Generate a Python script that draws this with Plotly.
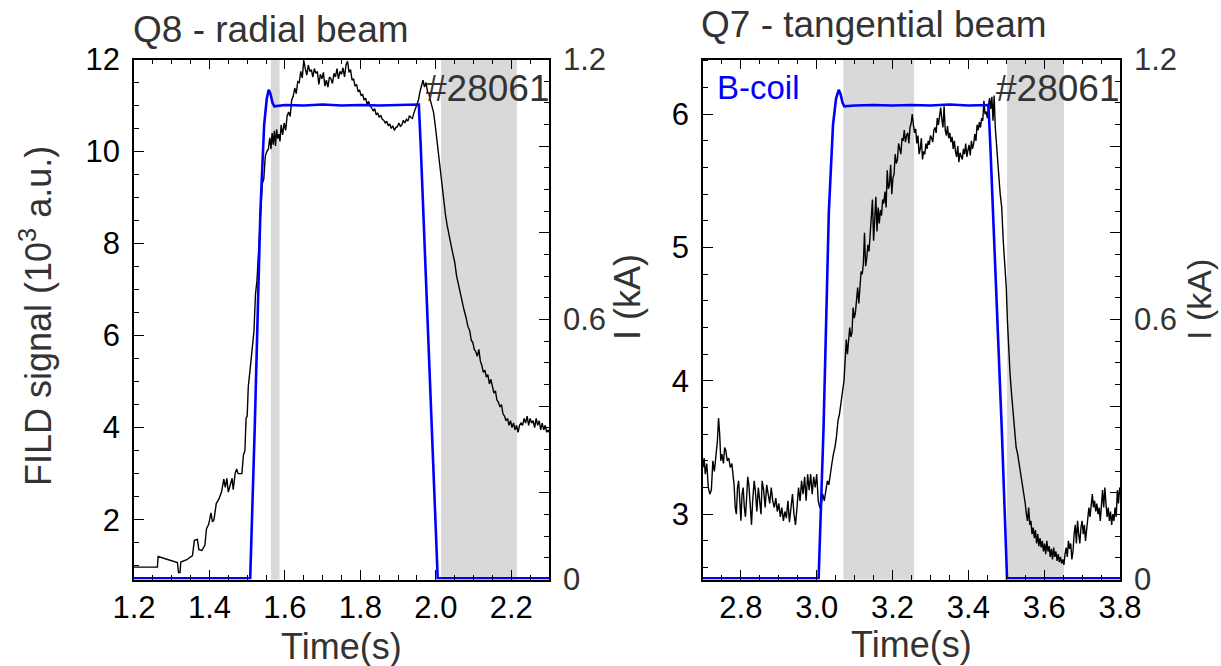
import plotly.graph_objects as go

# ---------------- data ----------------
# Left panel: Q8 - radial beam, FILD signal (10^3 a.u.) vs time (s)
q8_signal = [
    (1.200, 0.97), (1.220, 0.97), (1.240, 0.98), (1.262, 0.97), (1.264, 1.20), (1.280, 1.16), (1.300, 1.10),
    (1.315, 1.07), (1.318, 0.85), (1.322, 0.85), (1.324, 1.08), (1.340, 1.13), (1.355, 1.22), (1.360, 1.55),
    (1.368, 1.57), (1.372, 1.35), (1.380, 1.33), (1.388, 1.45), (1.392, 1.80), (1.398, 1.90), (1.404, 2.15),
    (1.408, 1.95), (1.412, 2.00), (1.418, 2.35), (1.425, 2.45), (1.432, 2.60), (1.438, 2.88), (1.442, 2.70),
    (1.446, 2.90), (1.450, 2.60), (1.455, 2.75), (1.460, 2.90), (1.463, 2.65), (1.468, 3.00), (1.472, 3.10),
    (1.476, 3.00), (1.486, 3.00), (1.490, 3.40), (1.494, 3.50), (1.497, 4.20), (1.500, 4.25), (1.503, 4.90),
    (1.507, 5.20), (1.512, 5.60), (1.518, 6.10), (1.522, 6.90), (1.526, 7.20), (1.530, 7.80), (1.535, 8.60),
    (1.540, 9.30), (1.544, 9.40), (1.548, 9.90), (1.552, 10.00), (1.556, 10.05), (1.560, 10.30), (1.563, 10.05),
    (1.566, 10.40), (1.569, 10.15), (1.572, 10.45), (1.575, 10.12), (1.578, 10.48), (1.581, 10.28), (1.584, 10.38),
    (1.587, 10.22), (1.590, 10.58), (1.594, 10.36), (1.598, 10.62), (1.602, 10.46), (1.606, 10.78), (1.610, 10.86),
    (1.614, 10.76), (1.618, 11.12), (1.622, 11.20), (1.626, 11.38), (1.630, 11.26), (1.634, 11.52), (1.638, 11.50),
    (1.642, 11.74), (1.646, 11.60), (1.650, 11.98), (1.654, 11.80), (1.658, 11.66), (1.662, 11.88), (1.666, 11.74),
    (1.670, 11.78), (1.674, 11.62), (1.678, 11.80), (1.682, 11.70), (1.686, 11.74), (1.690, 11.46), (1.694, 11.68),
    (1.698, 11.58), (1.702, 11.72), (1.706, 11.42), (1.710, 11.55), (1.714, 11.40), (1.718, 11.62), (1.722, 11.58),
    (1.726, 11.48), (1.730, 11.70), (1.734, 11.62), (1.738, 11.80), (1.742, 11.58), (1.746, 11.74), (1.750, 11.68),
    (1.754, 11.82), (1.758, 11.62), (1.762, 11.88), (1.766, 11.96), (1.770, 11.72), (1.774, 11.78), (1.778, 11.55),
    (1.782, 11.58), (1.786, 11.42), (1.790, 11.46), (1.794, 11.30), (1.798, 11.33), (1.802, 11.22), (1.806, 11.24),
    (1.810, 11.12), (1.814, 11.16), (1.818, 11.02), (1.822, 11.09), (1.826, 10.98), (1.830, 10.95), (1.834, 10.88),
    (1.838, 10.93), (1.842, 10.80), (1.846, 10.84), (1.850, 10.74), (1.854, 10.79), (1.858, 10.70), (1.862, 10.68),
    (1.866, 10.62), (1.870, 10.66), (1.874, 10.56), (1.878, 10.60), (1.882, 10.50), (1.886, 10.56), (1.890, 10.46),
    (1.894, 10.52), (1.898, 10.54), (1.902, 10.62), (1.906, 10.55), (1.910, 10.58), (1.914, 10.68), (1.918, 10.62),
    (1.922, 10.70), (1.926, 10.66), (1.930, 10.78), (1.934, 10.74), (1.938, 10.72), (1.942, 10.84), (1.946, 10.92),
    (1.950, 11.00), (1.954, 11.12), (1.958, 11.30), (1.962, 11.45), (1.966, 11.55), (1.970, 11.40), (1.974, 11.50),
    (1.978, 11.30), (1.982, 11.25), (1.986, 11.10), (1.990, 11.00), (1.994, 10.85), (1.998, 10.60), (2.002, 10.30),
    (2.006, 10.05), (2.010, 9.70), (2.014, 9.40), (2.018, 9.10), (2.022, 8.90), (2.026, 8.60), (2.030, 8.40),
    (2.034, 8.20), (2.038, 8.05), (2.042, 7.90), (2.046, 7.75), (2.050, 7.60), (2.055, 7.30), (2.060, 7.10),
    (2.065, 6.90), (2.070, 6.75), (2.075, 6.55), (2.080, 6.40), (2.085, 6.20), (2.090, 6.10), (2.094, 5.90),
    (2.098, 5.85), (2.102, 5.70), (2.106, 5.65), (2.110, 5.55), (2.114, 5.70), (2.118, 5.45), (2.122, 5.35),
    (2.126, 5.20), (2.130, 5.25), (2.134, 5.10), (2.138, 5.15), (2.142, 4.95), (2.146, 5.05), (2.150, 4.85),
    (2.154, 4.75), (2.158, 4.80), (2.162, 4.60), (2.166, 4.55), (2.170, 4.45), (2.174, 4.50), (2.178, 4.30),
    (2.182, 4.25), (2.186, 4.15), (2.190, 4.20), (2.194, 4.05), (2.198, 4.15), (2.202, 4.00), (2.206, 4.10),
    (2.210, 3.95), (2.214, 4.05), (2.218, 3.90), (2.222, 4.05), (2.226, 4.10), (2.230, 4.05), (2.234, 4.20),
    (2.238, 4.10), (2.242, 4.25), (2.246, 4.05), (2.250, 4.20), (2.254, 4.10), (2.258, 4.15), (2.262, 4.00),
    (2.266, 4.20), (2.270, 4.05), (2.274, 4.15), (2.278, 3.95), (2.282, 4.10), (2.286, 3.95), (2.290, 4.05),
    (2.294, 3.90), (2.298, 3.95), (2.300, 3.90),
]

# B-coil current (kA) for the radial-beam shot window
q8_coil = [
    (1.200, 0.003), (1.508, 0.003), (1.520, 0.35), (1.535, 0.85), (1.545, 1.05), (1.552, 1.11), (1.557, 1.13),
    (1.562, 1.12), (1.567, 1.10), (1.572, 1.092), (1.600, 1.095), (1.650, 1.094), (1.700, 1.096), (1.750, 1.094),
    (1.800, 1.095), (1.850, 1.094), (1.900, 1.095), (1.955, 1.096), (1.960, 1.00), (1.990, 0.35), (2.005, 0.003),
    (2.300, 0.003),
]

q8_bands = [(1.563, 1.586), (2.014, 2.215)]

# Right panel: Q7 - tangential beam
q7_signal = [
    (2.700, 3.35), (2.703, 3.42), (2.706, 3.30), (2.710, 3.38), (2.714, 3.20), (2.718, 3.15), (2.722, 3.18),
    (2.726, 3.40), (2.730, 3.32), (2.734, 3.45), (2.738, 3.55), (2.741, 3.72), (2.744, 3.60), (2.747, 3.40),
    (2.750, 3.45), (2.754, 3.38), (2.757, 3.50), (2.760, 3.48), (2.764, 3.40), (2.768, 3.42), (2.772, 3.35),
    (2.776, 3.38), (2.779, 3.30), (2.782, 3.22), (2.785, 3.05), (2.788, 3.00), (2.791, 3.20), (2.794, 3.25),
    (2.797, 3.10), (2.800, 2.95), (2.803, 3.15), (2.806, 3.20), (2.809, 3.05), (2.812, 2.98), (2.815, 3.12),
    (2.818, 3.28), (2.821, 3.22), (2.824, 3.05), (2.828, 2.92), (2.831, 3.10), (2.835, 3.25), (2.838, 3.18),
    (2.842, 3.02), (2.846, 3.20), (2.849, 3.12), (2.853, 3.00), (2.856, 3.25), (2.860, 3.18), (2.864, 3.05),
    (2.868, 3.22), (2.872, 3.15), (2.876, 3.08), (2.880, 3.20), (2.884, 3.10), (2.888, 3.05), (2.892, 3.12),
    (2.896, 3.02), (2.900, 3.08), (2.904, 2.98), (2.908, 3.05), (2.912, 2.95), (2.916, 3.02), (2.920, 2.97),
    (2.924, 3.10), (2.928, 2.94), (2.932, 3.05), (2.936, 3.15), (2.940, 3.00), (2.944, 2.92), (2.948, 3.05),
    (2.952, 3.20), (2.956, 3.10), (2.960, 3.25), (2.964, 3.15), (2.968, 3.28), (2.972, 3.10), (2.976, 3.30),
    (2.980, 3.18), (2.984, 3.30), (2.988, 3.15), (2.992, 3.28), (2.996, 3.20), (3.000, 3.30), (3.004, 3.10),
    (3.008, 3.05), (3.012, 3.08), (3.016, 3.15), (3.020, 3.10), (3.024, 3.18), (3.028, 3.25), (3.032, 3.22),
    (3.036, 3.32), (3.040, 3.38), (3.044, 3.45), (3.048, 3.50), (3.052, 3.58), (3.056, 3.70), (3.060, 3.75),
    (3.064, 3.82), (3.068, 3.92), (3.072, 4.00), (3.075, 4.12), (3.078, 4.31), (3.081, 4.20), (3.084, 4.28),
    (3.087, 4.40), (3.090, 4.33), (3.093, 4.36), (3.096, 4.55), (3.099, 4.47), (3.102, 4.51), (3.105, 4.62),
    (3.108, 4.70), (3.111, 4.58), (3.114, 4.74), (3.117, 4.82), (3.120, 4.80), (3.123, 4.88), (3.126, 5.11),
    (3.129, 4.86), (3.132, 4.92), (3.135, 5.02), (3.138, 4.97), (3.141, 5.12), (3.144, 5.28), (3.147, 5.36),
    (3.150, 5.05), (3.153, 5.22), (3.156, 5.38), (3.159, 5.12), (3.162, 5.30), (3.165, 5.18), (3.168, 5.28),
    (3.171, 5.24), (3.174, 5.36), (3.177, 5.33), (3.180, 5.42), (3.183, 5.30), (3.186, 5.58), (3.189, 5.44),
    (3.192, 5.47), (3.195, 5.62), (3.198, 5.40), (3.201, 5.52), (3.204, 5.55), (3.207, 5.70), (3.210, 5.63),
    (3.213, 5.66), (3.216, 5.78), (3.219, 5.74), (3.222, 5.70), (3.225, 5.82), (3.228, 5.80), (3.231, 5.88),
    (3.234, 5.79), (3.237, 5.84), (3.240, 5.86), (3.243, 5.78), (3.246, 5.90), (3.249, 5.93), (3.252, 6.00),
    (3.255, 5.92), (3.258, 5.86), (3.261, 5.89), (3.264, 5.78), (3.267, 5.84), (3.270, 5.70), (3.273, 5.74),
    (3.276, 5.82), (3.279, 5.66), (3.282, 5.72), (3.285, 5.70), (3.288, 5.78), (3.291, 5.74), (3.294, 5.80),
    (3.297, 5.77), (3.300, 5.84), (3.303, 5.82), (3.306, 5.79), (3.309, 5.88), (3.312, 5.90), (3.315, 5.86),
    (3.318, 5.97), (3.321, 5.92), (3.324, 5.99), (3.327, 6.05), (3.330, 5.96), (3.333, 5.90), (3.336, 6.06),
    (3.339, 5.88), (3.342, 5.84), (3.345, 5.91), (3.348, 5.82), (3.351, 5.86), (3.354, 5.79), (3.357, 5.83),
    (3.360, 5.74), (3.363, 5.80), (3.366, 5.72), (3.369, 5.68), (3.372, 5.76), (3.375, 5.64), (3.378, 5.71),
    (3.381, 5.69), (3.384, 5.66), (3.387, 5.74), (3.390, 5.70), (3.393, 5.78), (3.396, 5.68), (3.399, 5.73),
    (3.402, 5.77), (3.405, 5.69), (3.408, 5.80), (3.411, 5.74), (3.414, 5.78), (3.417, 5.85), (3.420, 5.80),
    (3.423, 5.92), (3.426, 5.88), (3.429, 5.94), (3.432, 5.90), (3.435, 5.97), (3.438, 5.95), (3.441, 6.10),
    (3.444, 6.00), (3.447, 6.02), (3.450, 5.97), (3.453, 6.06), (3.456, 6.12), (3.459, 6.04), (3.462, 6.13),
    (3.465, 5.95), (3.468, 6.14), (3.471, 5.90), (3.474, 5.75), (3.477, 5.62), (3.480, 5.55), (3.484, 5.40),
    (3.488, 5.30), (3.492, 5.05), (3.496, 4.85), (3.500, 4.70), (3.503, 4.45), (3.506, 4.25), (3.510, 4.05),
    (3.514, 3.90), (3.518, 3.75), (3.522, 3.58), (3.526, 3.50), (3.530, 3.45), (3.534, 3.38), (3.538, 3.30),
    (3.542, 3.25), (3.546, 3.15), (3.550, 3.08), (3.553, 3.00), (3.556, 2.95), (3.559, 3.05), (3.562, 2.92),
    (3.565, 2.95), (3.568, 2.85), (3.571, 2.90), (3.574, 2.82), (3.577, 2.88), (3.580, 2.78), (3.583, 2.85),
    (3.586, 2.76), (3.589, 2.82), (3.592, 2.75), (3.595, 2.80), (3.598, 2.72), (3.601, 2.78), (3.604, 2.70),
    (3.607, 2.80), (3.610, 2.72), (3.613, 2.76), (3.616, 2.68), (3.619, 2.74), (3.622, 2.66), (3.625, 2.75),
    (3.628, 2.68), (3.631, 2.72), (3.634, 2.65), (3.637, 2.70), (3.640, 2.64), (3.643, 2.68), (3.646, 2.63),
    (3.649, 2.66), (3.652, 2.62), (3.655, 2.70), (3.658, 2.75), (3.661, 2.68), (3.664, 2.80), (3.667, 2.74),
    (3.670, 2.78), (3.673, 2.66), (3.676, 2.72), (3.679, 2.85), (3.682, 2.92), (3.685, 2.78), (3.688, 2.95),
    (3.691, 2.85), (3.694, 2.78), (3.697, 2.90), (3.700, 2.95), (3.703, 2.85), (3.706, 2.92), (3.709, 2.80),
    (3.712, 2.90), (3.715, 3.00), (3.718, 3.05), (3.721, 2.98), (3.724, 3.08), (3.727, 3.15), (3.730, 3.05),
    (3.733, 3.10), (3.736, 3.02), (3.739, 3.08), (3.742, 3.00), (3.745, 3.05), (3.748, 2.95), (3.751, 3.12),
    (3.754, 3.18), (3.757, 3.05), (3.760, 3.20), (3.763, 3.08), (3.766, 2.98), (3.769, 3.05), (3.772, 2.95),
    (3.775, 3.02), (3.778, 2.92), (3.781, 3.00), (3.784, 2.95), (3.787, 3.05), (3.790, 2.98), (3.793, 3.18),
    (3.796, 3.08), (3.799, 3.20), (3.800, 3.15),
]

q7_coil = [
    (2.700, 0.003), (3.005, 0.003), (3.018, 0.35), (3.032, 0.85), (3.043, 1.05), (3.051, 1.11), (3.058, 1.13),
    (3.063, 1.12), (3.068, 1.10), (3.073, 1.092), (3.100, 1.094), (3.150, 1.095), (3.200, 1.094), (3.250, 1.095),
    (3.300, 1.094), (3.350, 1.096), (3.400, 1.094), (3.453, 1.095), (3.458, 1.00), (3.488, 0.35), (3.502, 0.003),
    (3.800, 0.003),
]

q7_bands = [(3.070, 3.257), (3.502, 3.652)]

# tick labels
q8_xticks = [1.2, 1.4, 1.6, 1.8, 2.0, 2.2]
q7_xticks = [2.8, 3.0, 3.2, 3.4, 3.6, 3.8]
q8_yticks = [2, 4, 6, 8, 10, 12]
q7_yticks = [3, 4, 5, 6]
ka_tickvals = [0, 0.2, 0.4, 0.6, 0.8, 1.0, 1.2]
ka_ticktext = ["0", "", "", "0.6", "", "", "1.2"]

# ---------------- figure ----------------
W, H = 1221, 666
FONT = "Liberation Sans, Arial, Helvetica, sans-serif"
BLUE = "#0000ff"
GREY_TXT = "#333333"

def px_x(p):
    return p / W

def px_y(p):
    return 1 - p / H

def unzip(pairs):
    return [p[0] for p in pairs], [p[1] for p in pairs]

xdom1 = [px_x(134), px_x(549)]
xdom2 = [px_x(703), px_x(1120)]
ydom = [px_y(579.5), px_y(59.5)]

fig = go.Figure()

t, v = unzip(q8_signal)
fig.add_trace(go.Scatter(x=t, y=v, mode="lines", line=dict(color="black", width=1.4),
                         xaxis="x", yaxis="y", showlegend=False))
t, v = unzip(q8_coil)
fig.add_trace(go.Scatter(x=t, y=v, mode="lines", line=dict(color=BLUE, width=2.6),
                         xaxis="x", yaxis="y2", showlegend=False))
t, v = unzip(q7_signal)
fig.add_trace(go.Scatter(x=t, y=v, mode="lines", line=dict(color="black", width=1.4),
                         xaxis="x2", yaxis="y3", showlegend=False))
t, v = unzip(q7_coil)
fig.add_trace(go.Scatter(x=t, y=v, mode="lines", line=dict(color=BLUE, width=2.6),
                         xaxis="x2", yaxis="y4", showlegend=False))

shapes = []
for x0, x1 in q8_bands:
    shapes.append(dict(type="rect", xref="x", yref="y domain", x0=x0, x1=x1, y0=0, y1=1,
                       fillcolor="#d9d9d9", line=dict(width=0), layer="below"))
for x0, x1 in q7_bands:
    shapes.append(dict(type="rect", xref="x2", yref="y3 domain", x0=x0, x1=x1, y0=0, y1=1,
                       fillcolor="#d9d9d9", line=dict(width=0), layer="below"))

tickfont = dict(family=FONT, size=31, color="black")
tickfont_r = dict(family=FONT, size=31, color=GREY_TXT)

def xaxis(dom, rng, ticks, anchor):
    return dict(domain=dom, range=rng, anchor=anchor, tickvals=ticks, tickformat=".1f",
                ticks="inside", ticklen=10, tickwidth=1.2, tickcolor="black",
                showline=True, linecolor="black", linewidth=1.5, mirror="ticks",
                showgrid=False, zeroline=False, tickfont=tickfont, automargin=False,
                minor=dict(ticks="inside", ticklen=5, tickwidth=1, tickcolor="black",
                           dtick=0.05, tick0=rng[0], showgrid=False))

def yaxis_left(rng, ticks, anchor, minor_dtick):
    return dict(domain=ydom, range=rng, anchor=anchor, tickvals=ticks,
                ticks="inside", ticklen=10, tickwidth=1.2, tickcolor="black",
                showline=True, linecolor="black", linewidth=1.5, mirror=False,
                showgrid=False, zeroline=False, tickfont=tickfont, ticklabelstandoff=6,
                automargin=False,
                minor=dict(ticks="inside", ticklen=5, tickwidth=1, tickcolor="black",
                           dtick=minor_dtick, tick0=0, showgrid=False))

def yaxis_right(anchor, overlay):
    return dict(domain=ydom, range=[0, 1.2], anchor=anchor, overlaying=overlay, side="right",
                tickvals=ka_tickvals, ticktext=ka_ticktext,
                ticks="inside", ticklen=10, tickwidth=1.2, tickcolor="black",
                showline=True, linecolor="black", linewidth=1.5,
                showgrid=False, zeroline=False, tickfont=tickfont_r, ticklabelstandoff=6,
                automargin=False,
                minor=dict(ticks="inside", ticklen=5, tickwidth=1, tickcolor="black",
                           dtick=0.05, tick0=0, showgrid=False))

ann = []
def text(x, y, s, size, color=GREY_TXT, xanchor="center", yanchor="middle", angle=0):
    ann.append(dict(x=px_x(x), y=px_y(y), xref="paper", yref="paper", text=s, showarrow=False,
                    xanchor=xanchor, yanchor=yanchor, textangle=angle, borderpad=0,
                    font=dict(family=FONT, size=size, color=color)))

text(132, 30, "Q8 - radial beam", 37, xanchor="left")
text(700, 25, "Q7 - tangential beam", 37, xanchor="left")
text(550, 88, "#28061", 37, xanchor="right")
text(1120, 88, "#28061", 37, xanchor="right")
text(716, 87, "B-coil", 33, color=BLUE, xanchor="left")
text(36, 316, "FILD signal (10<sup>3</sup> a.u.)", 36, angle=-90)
text(627, 297, "I (kA)", 36, angle=-90)
text(1199, 300, "I (kA)", 34, angle=-90)
text(341, 646, "Time(s)", 36)
text(911, 644, "Time(s)", 36)

fig.update_layout(
    width=W, height=H, margin=dict(l=0, r=0, t=0, b=0, pad=0, autoexpand=False),
    paper_bgcolor="white", plot_bgcolor="white",
    xaxis=xaxis(xdom1, [1.2, 2.3], q8_xticks, "y"),
    yaxis=yaxis_left([0.7, 12], q8_yticks, "x", 0.5),
    yaxis2=yaxis_right("x", "y"),
    xaxis2=xaxis(xdom2, [2.7, 3.8], q7_xticks, "y3"),
    yaxis3=yaxis_left([2.51, 6.41], q7_yticks, "x2", 0.2),
    yaxis4=yaxis_right("x2", "y3"),
    shapes=shapes, annotations=ann, showlegend=False,
)

fig.write_html("out.html")
